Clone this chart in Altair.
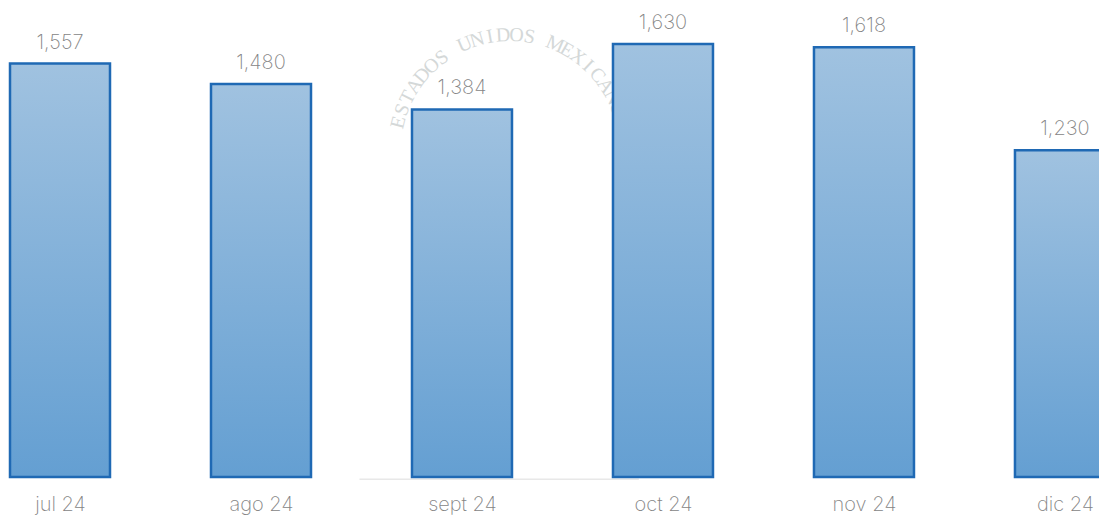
import altair as alt
import pandas as pd

months = ["jul 24", "ago 24", "sept 24", "oct 24", "nov 24", "dic 24"]
positions = [0, 1, 2, 3, 4, 5]
values = [1557, 1480, 1384, 1630, 1618, 1230]
labels = ["1,557", "1,480", "1,384", "1,630", "1,618", "1,230"]
seal_letters = list("ESTADOS UNIDOS MEXICANOS")

df = pd.DataFrame({"i": positions, "valor": values, "etiqueta": labels})
seal = pd.DataFrame({"k": list(range(len(seal_letters))), "letra": seal_letters})
base = pd.DataFrame({"a": [1.49], "b": [2.88], "v": [-8]})

FONT = "Inter"
TXT = "#858585"
W, H = 1091, 507
label_expr = "[" + ",".join(f"'{m}'" for m in months) + "][datum.value]"

xscale = alt.Scale(domain=[-0.2587, 5.1693], nice=False, zero=False, padding=0)
yscale = alt.Scale(domain=[-143, 1766], nice=False, zero=False)

xaxis = alt.Axis(values=positions, labelExpr=label_expr, domain=False, ticks=False, grid=False,
                 labelAngle=0, labelFont=FONT, labelFontSize=20, labelColor=TXT,
                 labelFontWeight=200, labelPadding=17, offset=-38)

x = alt.X("i:Q", title=None, scale=xscale, axis=xaxis)
y = alt.Y("valor:Q", title=None, axis=None, scale=yscale)

ring = alt.Chart(seal).transform_calculate(
    ang="-76 + 6.6 * datum.k",
    px="2.239 + 0.572 * sin(datum.ang * PI / 180)",
    py="1231 + 433 * cos(datum.ang * PI / 180)",
    rot="(datum.ang + 360) % 360",
).mark_text(font="Liberation Serif", fontSize=20, color="#d4d8d8").encode(
    x=alt.X("px:Q", title=None, scale=xscale, axis=xaxis),
    y=alt.Y("py:Q", title=None, scale=yscale, axis=None),
    text="letra:N",
    angle=alt.Angle("rot:Q", scale=None),
)

baseline = alt.Chart(base).mark_rule(color="#dcdcdc", strokeWidth=1).encode(
    x=alt.X("a:Q", title=None, scale=xscale, axis=xaxis),
    x2="b:Q",
    y=alt.Y("v:Q", title=None, scale=yscale, axis=None),
)

bars = alt.Chart(df).mark_bar(
    clip=True,
    size=100,
    stroke="#1f69b4",
    strokeWidth=2.5,
    color=alt.Gradient(
        gradient="linear", x1=0, x2=0, y1=0, y2=1,
        stops=[alt.GradientStop(color="#a0c2e0", offset=0), alt.GradientStop(color="#649fd2", offset=1)],
    ),
).encode(x=x, y=y)

text = alt.Chart(df).mark_text(
    dy=-21, font=FONT, fontSize=20, color=TXT, fontWeight=200,
).encode(x=x, y=y, text="etiqueta:N")

chart = alt.layer(ring, baseline, bars, text).properties(
    width=W, height=H, padding=0, background="white",
    autosize=alt.AutoSizeParams(type="none"),
).configure_view(stroke=None)

chart.save("out.html", embed_options={"renderer": "svg", "actions": False})
